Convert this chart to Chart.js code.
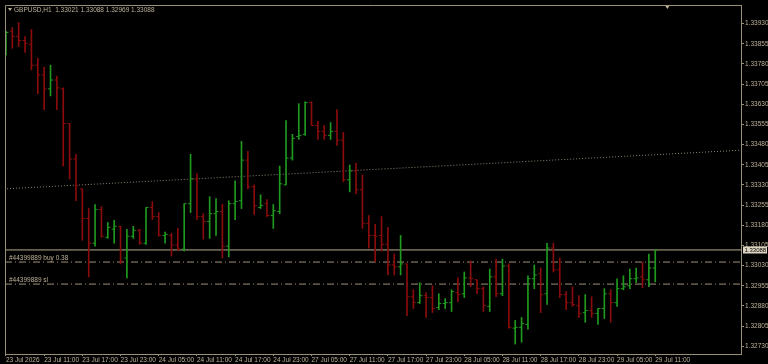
<!DOCTYPE html>
<html>
<head>
<meta charset="utf-8">
<script src="https://cdn.jsdelivr.net/npm/chart.js@4.4.1/dist/chart.umd.min.js"></script>
<style>
html, body { margin: 0; padding: 0; background: #000; }
#wrap { width: 768px; height: 364px; }
</style>
</head>
<body>
<div id="wrap"><canvas id="grafico"></canvas></div>
<script>
// GBPUSD H1 - barras OHLC
const simbolo = 'GBPUSD,H1';

const opens = [
  1.33838,1.33901,1.33882,1.33867,1.33853,1.33775,1.33739,1.33687,1.33720,1.33687,
  1.33558,1.33426,1.33315,1.33205,1.33113,1.33238,1.33135,1.33165,1.33176,1.33058,
  1.33139,1.33161,1.33113,1.33246,1.33212,1.33142,1.33142,1.33106,1.33091,1.33260,
  1.33352,1.33212,1.33194,1.33223,1.33231,1.33102,1.33260,1.33271,1.33422,1.33323,
  1.33246,1.33260,1.33216,1.33231,1.33330,1.33430,1.33510,1.33518,1.33636,1.33551,
  1.33529,1.33514,1.33529,1.33496,1.33349,1.33382,1.33312,1.33187,1.33142,1.33142,
  1.33109,1.33032,1.33025,1.33036,1.32914,1.32892,1.32918,1.32911,1.32874,1.32889,
  1.32892,1.32929,1.32925,1.32984,1.32977,1.32944,1.32878,1.32988,1.32925,1.33028,
  1.32797,1.32800,1.32811,1.32981,1.32999,1.32925,1.33095,1.33014,1.32922,1.32892,
  1.32881,1.32855,1.32863,1.32852,1.32870,1.32925,1.32892,1.32944,1.32955,1.32981,
  1.32988,1.32977,1.33021
];
const highs = [
  1.33901,1.33915,1.33934,1.33882,1.33908,1.33801,1.33768,1.33775,1.33735,1.33691,
  1.33558,1.33444,1.33315,1.33242,1.33257,1.33249,1.33190,1.33198,1.33176,1.33165,
  1.33176,1.33165,1.33246,1.33268,1.33227,1.33154,1.33150,1.33168,1.33260,1.33444,
  1.33371,1.33223,1.33286,1.33279,1.33257,1.33271,1.33345,1.33492,1.33455,1.33330,
  1.33293,1.33275,1.33257,1.33400,1.33569,1.33518,1.33632,1.33639,1.33639,1.33566,
  1.33551,1.33562,1.33610,1.33525,1.33404,1.33411,1.33367,1.33216,1.33183,1.33212,
  1.33172,1.33073,1.33142,1.33036,1.32940,1.32966,1.32929,1.32955,1.32925,1.32907,
  1.32940,1.32984,1.33006,1.33047,1.32977,1.32951,1.33017,1.33054,1.33054,1.33036,
  1.32826,1.32837,1.32992,1.33032,1.33021,1.33113,1.33113,1.33058,1.32933,1.32951,
  1.32918,1.32922,1.32914,1.32870,1.32944,1.32940,1.32981,1.32992,1.33017,1.33021,
  1.33043,1.33073,1.33088
];
const lows = [
  1.33812,1.33838,1.33845,1.33823,1.33757,1.33669,1.33610,1.33661,1.33610,1.33400,
  1.33352,1.33271,1.33124,1.32988,1.33102,1.33135,1.33131,1.33113,1.33036,1.32984,
  1.33131,1.33109,1.33109,1.33201,1.33139,1.33113,1.33065,1.33087,1.33084,1.33227,
  1.33201,1.33128,1.33131,1.33142,1.33058,1.33062,1.33201,1.33242,1.33315,1.33220,
  1.33242,1.33212,1.33168,1.33223,1.33330,1.33422,1.33499,1.33514,1.33551,1.33499,
  1.33499,1.33499,1.33477,1.33341,1.33304,1.33297,1.33168,1.33095,1.33043,1.33084,
  1.32995,1.32995,1.32995,1.32844,1.32870,1.32889,1.32837,1.32855,1.32866,1.32870,
  1.32859,1.32896,1.32911,1.32951,1.32925,1.32859,1.32859,1.32914,1.32918,1.32797,
  1.32738,1.32745,1.32793,1.32944,1.32855,1.32885,1.33006,1.32911,1.32866,1.32878,
  1.32837,1.32819,1.32837,1.32811,1.32833,1.32819,1.32878,1.32940,1.32944,1.32966,
  1.32947,1.32951,1.32969
];
const closes = [
  1.33897,1.33882,1.33867,1.33856,1.33775,1.33739,1.33687,1.33720,1.33691,1.33558,
  1.33426,1.33326,1.33205,1.33113,1.33238,1.33139,1.33172,1.33176,1.33047,1.33139,
  1.33161,1.33113,1.33246,1.33212,1.33142,1.33146,1.33106,1.33091,1.33260,1.33352,
  1.33212,1.33194,1.33223,1.33231,1.33102,1.33260,1.33268,1.33422,1.33323,1.33253,
  1.33253,1.33216,1.33234,1.33334,1.33430,1.33503,1.33514,1.33636,1.33551,1.33529,
  1.33514,1.33529,1.33496,1.33349,1.33382,1.33312,1.33187,1.33142,1.33139,1.33109,
  1.33032,1.33025,1.33036,1.32914,1.32892,1.32918,1.32911,1.32870,1.32889,1.32892,
  1.32933,1.32922,1.32984,1.32981,1.32944,1.32881,1.32988,1.32925,1.33028,1.32800,
  1.32800,1.32815,1.32981,1.32995,1.32922,1.33095,1.33014,1.32922,1.32892,1.32885,
  1.32852,1.32863,1.32852,1.32870,1.32925,1.32892,1.32944,1.32951,1.32981,1.32984,
  1.32977,1.33021,1.33088
];

const tickIdx = [0,6,12,18,24,30,36,42,48,54,60,66,72,78,84,90,96,102];
const tickLabels = ['23 Jul 2026','23 Jul 11:00','23 Jul 17:00','23 Jul 23:00','24 Jul 05:00','24 Jul 11:00',
  '24 Jul 17:00','24 Jul 23:00','27 Jul 05:00','27 Jul 11:00','27 Jul 17:00','27 Jul 23:00',
  '28 Jul 05:00','28 Jul 11:00','28 Jul 17:00','28 Jul 23:00','29 Jul 05:00','29 Jul 11:00'];
const yTicks = [1.32730,1.32805,1.32880,1.32955,1.33030,1.33105,1.33180,1.33255,1.33330,
  1.33405,1.33480,1.33555,1.33630,1.33705,1.33780,1.33855,1.33930];

// niveis da ordem e linha de tendencia
const precoAtual = 1.33088;
const nivelBuy = 1.33043;
const nivelSl = 1.32961;
const textoBuy = '#44399889 buy 0.38';
const textoSl = '#44399889 sl';
const tendenciaX = [-0.31, 115.47];
const tendenciaY = [1.33315, 1.33459];
const shiftIdx = 103.9;

const X_MIN = -0.15, X_MAX = 115.47;
const Y_MIN = 1.32701, Y_MAX = 1.33999;

const verde = '#1f9a1f';
const vermelho = '#8a0c0c';
const corEixo = '#9a8f78';
const corTexto = '#bdb198';
const fonte = '"Liberation Sans Narrow", "Liberation Sans", sans-serif';

const cores = closes.map((c, i) => c >= opens[i] ? verde : vermelho);

function linhaHorizontal(nivel, dash, cor) {
    return {
        type: 'line',
        data: [{x: X_MIN, y: nivel}, {x: X_MAX, y: nivel}],
        borderColor: cor,
        borderWidth: 1,
        borderDash: dash,
        pointRadius: 0,
        order: 10
    };
}

const decor = {
    id: 'decor',
    afterDatasetsDraw(chart) {
        const {ctx, chartArea: a, scales: {x, y}} = chart;
        ctx.save();
        ctx.strokeStyle = corEixo;
        ctx.lineWidth = 1;
        ctx.beginPath();
        ctx.moveTo(a.left + 0.5, a.bottom);
        ctx.lineTo(a.left + 0.5, a.top + 0.5);
        ctx.lineTo(a.right, a.top + 0.5);
        ctx.stroke();

        ctx.font = '6.5px ' + fonte;
        ctx.fillStyle = corTexto;
        ctx.textBaseline = 'middle';
        // titulo
        const n = closes.length - 1;
        ctx.beginPath();
        ctx.moveTo(a.left + 3, a.top + 3);
        ctx.lineTo(a.left + 7, a.top + 3);
        ctx.lineTo(a.left + 5, a.top + 6);
        ctx.closePath();
        ctx.fill();
        const titulo = simbolo + '  ' + [opens[n], highs[n], lows[n], closes[n]].map(v => v.toFixed(5)).join(' ');
        ctx.fillText(titulo, a.left + 9, a.top + 5);

        // rotulos das ordens
        ctx.textBaseline = 'bottom';
        ctx.fillText(textoBuy, a.left + 4, y.getPixelForValue(nivelBuy) - 1);
        ctx.fillText(textoSl, a.left + 4, y.getPixelForValue(nivelSl) - 1);

        // marcador de shift
        const sx = x.getPixelForValue(shiftIdx);
        ctx.beginPath();
        ctx.moveTo(sx - 2, a.top + 1);
        ctx.lineTo(sx + 2, a.top + 1);
        ctx.lineTo(sx, a.top + 4);
        ctx.closePath();
        ctx.fill();

        // caixa do preco atual
        const py = Math.round(y.getPixelForValue(precoAtual));
        ctx.fillStyle = '#ddd4c2';
        ctx.fillRect(a.right + 2, py - 3.5, 24, 7);
        ctx.fillStyle = '#000';
        ctx.textBaseline = 'middle';
        ctx.font = '6px ' + fonte;
        ctx.fillText(precoAtual.toFixed(5), a.right + 3.5, py + 0.5);
        ctx.restore();
    }
};

document.addEventListener('DOMContentLoaded', function () {
    const ctx = document.getElementById('grafico').getContext('2d');
    new Chart(ctx, {
        type: 'line',
        data: {
            datasets: [
                {
                    type: 'bar',
                    data: lows.map((l, i) => ({x: i, y: [l, highs[i]]})),
                    backgroundColor: cores,
                    borderWidth: 0,
                    barThickness: 1,
                    grouped: false,
                    order: 3
                },
                {
                    type: 'line',
                    data: opens.map((v, i) => ({x: i, y: v})),
                    showLine: false,
                    pointStyle: 'dash',
                    pointRotation: 180,
                    pointRadius: 2.5,
                    pointBorderWidth: 1,
                    pointBorderColor: cores,
                    order: 2
                },
                {
                    type: 'line',
                    data: closes.map((v, i) => ({x: i, y: v})),
                    showLine: false,
                    pointStyle: 'dash',
                    pointRotation: 0,
                    pointRadius: 2.5,
                    pointBorderWidth: 1,
                    pointBorderColor: cores,
                    order: 1
                },
                linhaHorizontal(precoAtual, [], '#b9ab8e'),
                linhaHorizontal(nivelBuy, [7, 3, 1, 3], '#9d9178'),
                linhaHorizontal(nivelSl, [7, 3, 1, 3], '#9d9178'),
                {
                    type: 'line',
                    data: tendenciaX.map((v, i) => ({x: v, y: tendenciaY[i]})),
                    borderColor: '#8f8672',
                    borderWidth: 1,
                    borderDash: [1, 2],
                    pointRadius: 0,
                    order: 11
                }
            ]
        },
        options: {
            responsive: true,
            maintainAspectRatio: false,
            animation: false,
            devicePixelRatio: 1,
            events: [],
            layout: {padding: {left: 1, top: 1, right: 0, bottom: 0}},
            plugins: {legend: {display: false}, tooltip: {enabled: false}},
            scales: {
                x: {
                    type: 'linear',
                    min: X_MIN,
                    max: X_MAX,
                    offset: false,
                    grid: {offset: false, drawOnChartArea: false, color: corEixo, tickLength: 2},
                    border: {color: corEixo},
                    afterBuildTicks: s => { s.ticks = tickIdx.map(v => ({value: v})); },
                    afterFit: s => { s.height = 10; },
                    ticks: {
                        autoSkip: false,
                        maxRotation: 0,
                        align: 'start',
                        padding: 0,
                        color: corTexto,
                        font: {size: 6.5, family: fonte},
                        callback: v => tickLabels[tickIdx.indexOf(v)]
                    }
                },
                y: {
                    type: 'linear',
                    position: 'right',
                    min: Y_MIN,
                    max: Y_MAX,
                    beginAtZero: false,
                    grid: {drawOnChartArea: false, color: corEixo, tickLength: 3},
                    border: {color: corEixo},
                    afterBuildTicks: s => { s.ticks = yTicks.map(v => ({value: v})); },
                    afterFit: s => { s.width = 27; },
                    ticks: {
                        padding: 1,
                        color: corTexto,
                        font: {size: 6.5, family: fonte},
                        callback: v => Number(v).toFixed(5)
                    }
                }
            }
        },
        plugins: [decor]
    });
});
</script>
</body>
</html>
